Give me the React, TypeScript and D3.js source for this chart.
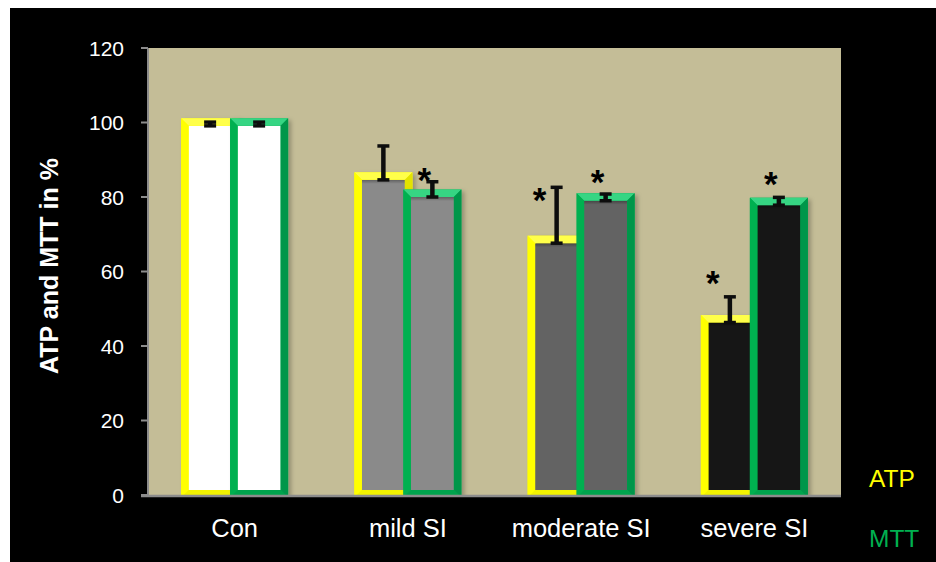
import React from "react";
import * as d3 from "d3";

const categories = ["Con", "mild SI", "moderate SI", "severe SI"];
const seriesNames = ["ATP", "MTT"];
const atpValues = [99.1, 84.6, 67.6, 46.3];
const mttValues = [99.1, 80.0, 79.0, 77.8];
const atpErrors = [1.0, 9.1, 15.0, 6.9];
const mttErrors = [1.0, 4.1, 1.8, 2.1];
// heights (in %) at which significance asterisks sit; null = none
const atpStars = [null, null, 81.1, 58.8];
const mttStars = [null, 86.4, 85.9, 85.4];
const yTicks = [0, 20, 40, 60, 80, 100, 120];
const categoryFills = ["#FFFFFF", "#8A8A8A", "#636363", "#161616"];

const W = 936;
const H = 562;
const plot = { left: 148, right: 841, top: 48, bottom: 495 };
const FONT = "'Liberation Sans', Arial, sans-serif";

const bevel = {
  ATP: { top: "#FFFF4A", left: "#FFFF00", right: "#E3E300", bottom: "#F2F200" },
  MTT: { top: "#36D583", left: "#00B050", right: "#00964A", bottom: "#00A44D" },
};

export default function App() {
  const y = d3.scaleLinear().domain([0, 120]).range([plot.bottom, plot.top]);
  const p = 1 - 92 / 173.25;
  const x0 = d3
    .scaleBand<string>()
    .domain(categories)
    .range([plot.left, plot.right])
    .paddingInner(p)
    .paddingOuter(p / 2);
  const x1 = d3
    .scaleBand<string>()
    .domain(seriesNames)
    .range([0, x0.bandwidth()])
    .paddingInner(6 / 49);
  const bw = x1.bandwidth();
  const t = 7.5;

  const bars: any[] = [];
  categories.forEach((c, i) => {
    [
      { s: "ATP", v: atpValues[i], e: atpErrors[i], star: atpStars[i], dx: -17 },
      { s: "MTT", v: mttValues[i], e: mttErrors[i], star: mttStars[i], dx: -8 },
    ].forEach((d) => {
      bars.push({ ...d, c, i, x: (x0(c) as number) + (x1(d.s) as number) });
    });
  });

  const y0 = y(0);
  const pt = (a: number[][]) => a.map((q) => q.join(",")).join(" ");

  return (
    <svg
      width={W}
      height={H}
      style={{ position: "absolute", left: 0, top: 0, background: "#fff" }}
      fontFamily={FONT}
    >
      <defs>
        <clipPath id="plotClip">
          <rect x={plot.left} y={0} width={plot.right - plot.left + 20} height={plot.bottom} />
        </clipPath>
        <filter id="shadow" x="-20%" y="-20%" width="150%" height="150%">
          <feDropShadow dx="3" dy="2" stdDeviation="2" floodColor="#000" floodOpacity="0.25" />
        </filter>
        <linearGradient id="innerShade" x1="0" y1="0" x2="0" y2="1">
          <stop offset="0" stopColor="#000" stopOpacity="0.3" />
          <stop offset="1" stopColor="#000" stopOpacity="0" />
        </linearGradient>
      </defs>
      <rect x={10} y={8} width={W - 10} height={H - 8} fill="#000" />
      <rect
        x={plot.left}
        y={plot.top}
        width={plot.right - plot.left}
        height={plot.bottom - plot.top}
        fill="#C4BD97"
      />

      <g clipPath="url(#plotClip)">
        {bars.map((b, k) => {
          const it = y(b.v);
          const ib = y0 - 5;
          const il = b.x;
          const ir = b.x + bw;
          const ot = it - t;
          const ob = ib + t;
          const ol = il - t;
          const or = ir + t;
          const col = (bevel as any)[b.s];
          return (
            <g key={k}>
              <g filter="url(#shadow)">
                <rect x={ol} y={ot} width={or - ol} height={ob - ot} fill={col.left} />
              </g>
              <rect x={il} y={it} width={bw} height={ib - it} fill={categoryFills[b.i]} />
              {b.i > 0 && <rect x={il} y={it} width={bw} height={4} fill="url(#innerShade)" />}
              <polygon points={pt([[ol, ot], [or, ot], [ir, it], [il, it]])} fill={col.top} />
              <polygon points={pt([[ol, ot], [il, it], [il, ib], [ol, ob]])} fill={col.left} />
              <polygon points={pt([[or, ot], [or, ob], [ir, ib], [ir, it]])} fill={col.right} />
              <polygon points={pt([[il, ib], [ir, ib], [or, ob], [ol, ob]])} fill={col.bottom} />
            </g>
          );
        })}
      </g>

      {/* error bars */}
      {bars.map((b, k) => {
        const cx = b.x + bw / 2;
        const ya = y(b.v);
        const yb = y(b.v + b.e);
        return (
          <g key={"e" + k} stroke="#0D0D0D" fill="none">
            <line x1={cx} x2={cx} y1={ya} y2={yb} strokeWidth={4.5} />
            <line x1={cx - 6} x2={cx + 6} y1={yb} y2={yb} strokeWidth={3.5} />
            <line x1={cx - 6} x2={cx + 6} y1={ya} y2={ya} strokeWidth={3.5} />
          </g>
        );
      })}

      {/* significance asterisks */}
      {bars
        .filter((b) => b.star !== null)
        .map((b, k) => (
          <text
            key={"s" + k}
            x={b.x + bw / 2 + b.dx}
            y={y(b.star) + 19}
            textAnchor="middle"
            fontSize={35}
            fontWeight="bold"
            fill="#000"
          >
            *
          </text>
        ))}

      {/* axes */}
      <line x1={plot.left} x2={plot.left} y1={plot.top} y2={plot.bottom} stroke="#8C8C8C" strokeWidth={2} />
      <line x1={plot.left - 7} x2={plot.right} y1={plot.bottom + 1} y2={plot.bottom + 1} stroke="#8C8C8C" strokeWidth={2.5} />
      {yTicks.map((v) => (
        <g key={"t" + v}>
          <line x1={plot.left - 7} x2={plot.left} y1={y(v)} y2={y(v)} stroke="#8C8C8C" strokeWidth={2} />
          <text x={124} y={y(v)} dy="0.36em" textAnchor="end" fontSize={21} fill="#fff">
            {v}
          </text>
        </g>
      ))}
      {categories.map((c) => (
        <text
          key={"c" + c}
          x={(x0(c) as number) + x0.bandwidth() / 2}
          y={537}
          textAnchor="middle"
          fontSize={25.5}
          fill="#fff"
        >
          {c}
        </text>
      ))}
      <text
        transform={`translate(58, 266) rotate(-90)`}
        textAnchor="middle"
        fontSize={25}
        fontWeight="bold"
        fill="#fff"
      >
        ATP and MTT in %
      </text>

      {/* legend */}
      <text x={869} y={487} fontSize={24.5} fill="#FFFF00">
        {seriesNames[0]}
      </text>
      <text x={869} y={547} fontSize={24.5} fill="#00B050">
        {seriesNames[1]}
      </text>
    </svg>
  );
}
